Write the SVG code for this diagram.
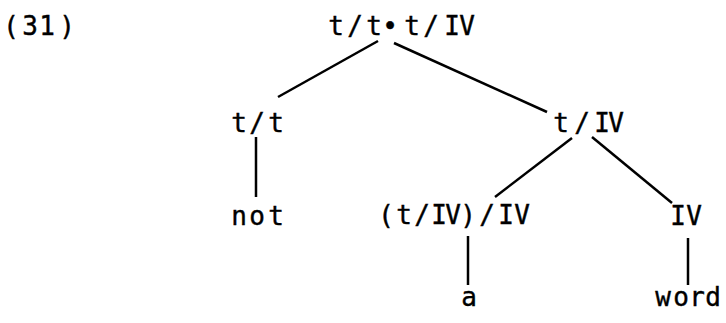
<svg xmlns="http://www.w3.org/2000/svg" width="726" height="323" viewBox="0 0 726 323">
<style>
text { font-family: "DejaVu Sans Mono", "Liberation Mono", monospace; font-size: 26px; fill: #000; stroke: #000; stroke-width: 0.4; text-anchor: middle; }
.edge { stroke: #000; stroke-width: 2.5; fill: none; }
</style>
<rect width="726" height="323" fill="#fff"/>
<g id="example-number"><text x="11 30 47 67" y="35">(31)</text></g>
<g id="n-root"><text x="336 355 374 390 412 431 452 467" y="35">t/t•t/IV</text></g>
<g id="n-tt"><text x="239 257 276" y="132">t/t</text></g>
<g id="n-tIV"><text x="561 582 602 616" y="132">t/IV</text></g>
<g id="n-not"><text x="239 257 276" y="225">not</text></g>
<g id="n-tIVIV"><text x="386 404 422 439 453 468 487 506 522" y="224">(t/IV)/IV</text></g>
<g id="n-IV"><text x="678 694" y="225">IV</text></g>
<g id="n-a"><text x="469" y="306">a</text></g>
<g id="n-word"><text x="663 681 697 713" y="306">word</text></g>
<g id="connectors">
<line class="edge" x1="378" y1="41" x2="278" y2="97"/>
<line class="edge" x1="394" y1="43" x2="547" y2="112"/>
<line class="edge" x1="256" y1="137" x2="256" y2="197"/>
<line class="edge" x1="572" y1="138" x2="495" y2="197"/>
<line class="edge" x1="592" y1="137" x2="672" y2="203"/>
<line class="edge" x1="468" y1="236" x2="468" y2="285"/>
<line class="edge" x1="688" y1="238" x2="688" y2="285"/>
</g>
</svg>
